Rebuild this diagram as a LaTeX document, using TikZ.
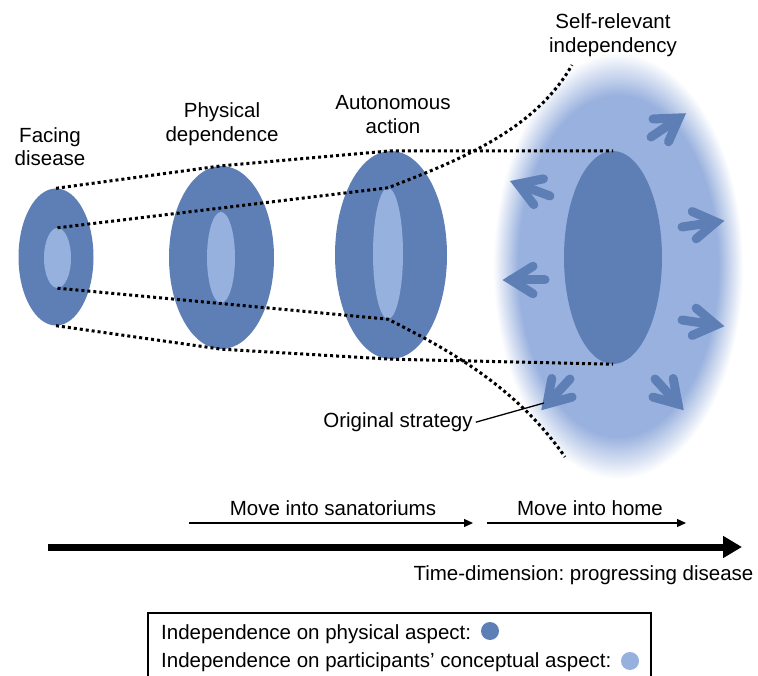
\documentclass[tikz,border=0pt]{standalone}
\usepackage{fontspec}
\setmainfont{Liberation Sans}
\frenchspacing
\usetikzlibrary{shapes.geometric,arrows.meta,calc}
\definecolor{dark}{RGB}{94,127,182}
\definecolor{light}{RGB}{150,177,221}
\definecolor{glowc}{RGB}{153,177,222}
\pgfdeclareradialshading{glowshade}{\pgfpoint{0bp}{0bp}}{color(0bp)=(glowc); color(20bp)=(glowc); color(25bp)=(white); color(50bp)=(white)}
\newcommand\chevarrow[2]{%
  \draw[chev] (#2) -- (#1);
  \draw[chev] ($(#1)!26pt!32:(#2)$) -- (#1) -- ($(#1)!26pt!-32:(#2)$);
}
\begin{document}
\begin{tikzpicture}[x=1pt,y=-1pt,
  lbl/.style={font=\fontsize{20.5pt}{23.5pt}\selectfont, inner sep=0pt, align=center},
  outerell/.style={ellipse, fill=dark, inner sep=0pt},
  innerell/.style={ellipse, fill=light, inner sep=0pt},
  dots/.style={black, line width=3pt, dash pattern=on 3pt off 3pt},
  chev/.style={dark, line width=9pt, line cap=round, line join=miter},
  thinarrow/.style={black, line width=1.3pt, -{Triangle[length=9pt,width=8pt]}},
  timearrow/.style={black, line width=7pt, -{Triangle[length=19pt,width=21pt]}},
  dot/.style={circle, inner sep=0pt, minimum size=18pt}]
\fill[white] (0,0) rectangle (758,676);
\useasboundingbox (0,0) rectangle (758,676);

% glow
\shade[shading=glowshade] (618,266) ellipse [x radius=125pt, y radius=213pt];

% ellipses
\node[outerell, minimum width=98pt, minimum height=213pt] (e4) at (613,257.5) {};
\node[outerell, minimum width=75pt, minimum height=137pt] (e1) at (56,257) {};
\node[innerell, minimum width=27pt, minimum height=60pt] (i1) at (57.5,258) {};
\node[outerell, minimum width=105pt, minimum height=183pt] (e2) at (221.5,257.5) {};
\node[innerell, minimum width=28pt, minimum height=91pt] (i2) at (221,257.5) {};
\node[outerell, minimum width=112pt, minimum height=208pt] (e3) at (391,255) {};
\node[innerell, minimum width=30pt, minimum height=131pt] (i3) at (388,253.5) {};

% chevron arrows
\chevarrow{679,118}{651,137}
\chevarrow{518,184}{550,196}
\chevarrow{716,222}{682,227}
\chevarrow{511,280}{545,280}
\chevarrow{716,325}{682,320}
\chevarrow{547,404}{570,379}
\chevarrow{678,404}{655,379}

% dotted lines
\coordinate (c1) at (572,65);
\coordinate (c2) at (565,457);
\draw[dots] (e1.north) -- (e2.north) -- (e3.north) -- (e4.north);
\draw[dots] (e1.south) -- (e2.south) -- (e3.south) -- (e4.south);
\draw[dots] (i1.north) -- (i3.north) .. controls (460,160) and (535,130) .. (c1);
\draw[dots] (i1.south) -- (i3.south) .. controls (445,348) and (515,385) .. (c2);

% labels
\node[lbl] (lf) at (50,146.8) {Facing\\disease};
\node[lbl] (lp) at (222,124) {Physical\\dependence};
\node[lbl] (la) at (393,114.8) {Autonomous\\action};
\node[lbl] (ls) at (613,35) {Self-relevant\\independency};
\node[lbl] (os) at (398,422.2) {Original strategy};
\coordinate (osend) at (544,403);
\path (os.east) ++(3,0) coordinate (osstart);
\draw[black, line width=1.3pt] (osstart) -- (osend);

% timeline
\node[lbl] (ms) at (333,508) {Move into sanatoriums};
\node[lbl] (mh) at (590,508) {Move into home};
\coordinate (a1s) at (189,523);
\coordinate (a1e) at (473,523);
\coordinate (a2s) at (487,523);
\coordinate (a2e) at (686,523);
\draw[thinarrow] (a1s) -- (a1e);
\draw[thinarrow] (a2s) -- (a2e);
\coordinate (t0) at (48,547);
\coordinate (t1) at (742,547);
\draw[timearrow] (t0) -- (t1);
\node[lbl] (td) at (583.5,575) {Time-dimension: progressing disease};

% legend
\draw[black, line width=1.2pt] (148,680) -- (148,613) -- (651,613) -- (651,680);
\node[lbl, anchor=west] (lg1) at (161,634) {Independence on physical aspect:};
\node[lbl, anchor=west] (lg2) at (161,662) {Independence on participants’ conceptual aspect:};
\node[dot, fill=dark] (d1) at (490,631) {};
\node[dot, fill=light] (d2) at (630,661) {};
\end{tikzpicture}
\end{document}
